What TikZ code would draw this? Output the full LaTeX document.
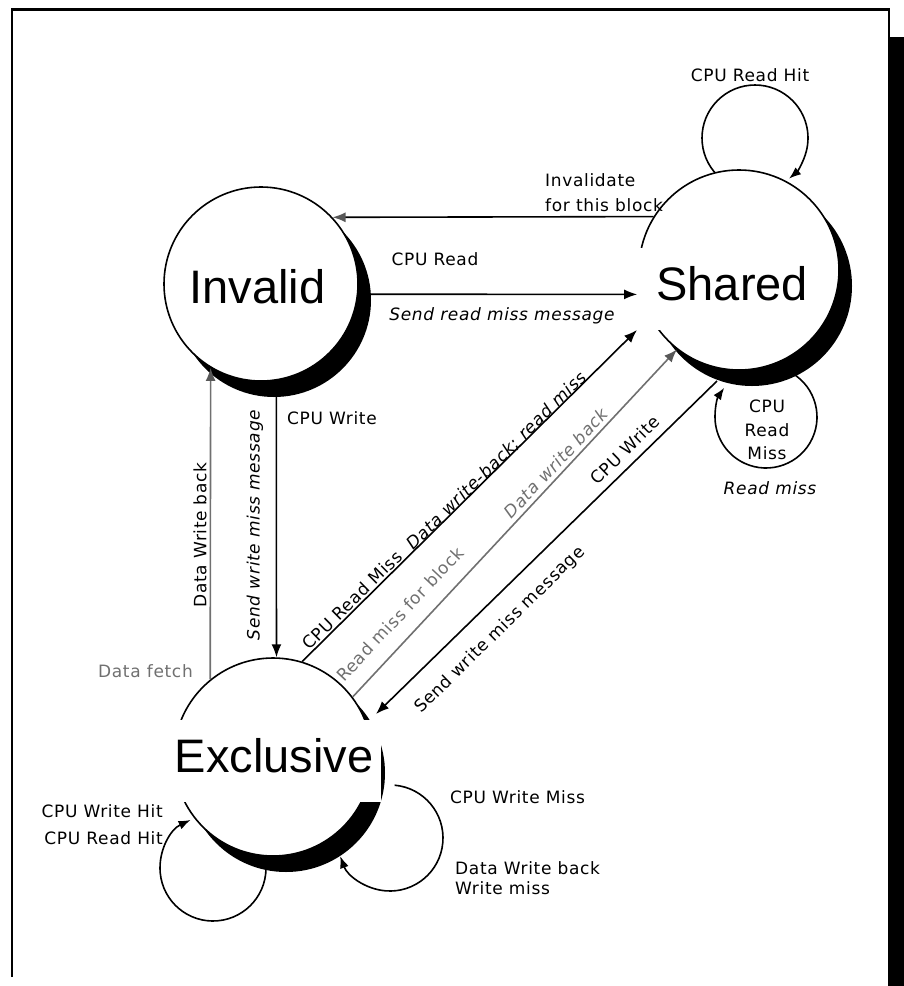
\documentclass[tikz,border=0pt]{standalone}
\usepackage{fontspec}
\setmainfont{Liberation Sans}
\newfontfamily\labelfont[LetterSpace=4,ItalicFont={DejaVu Sans Oblique}]{DejaVu Sans}
\usetikzlibrary{arrows.meta,shadows}

\definecolor{linegray}{RGB}{112,112,112}
\definecolor{tipgray}{RGB}{88,88,88}

\begin{document}
\begin{tikzpicture}[x=1pt,y=-1pt,
  state/.style={circle, draw, fill=white, line width=1.6pt, inner sep=0pt,
    drop shadow={shadow xshift=13pt, shadow yshift=-16pt, fill=black, opacity=1}},
  statename/.style={font=\fontsize{47}{47}\selectfont, fill=white, anchor=base,
    inner ysep=18pt, text height=34pt, text depth=12pt},
  lbl/.style={font=\labelfont\fontsize{17}{#1}\selectfont, inner sep=1pt},
  lbl/.default=25,
  act/.style={font=\labelfont\itshape\fontsize{17}{#1}\selectfont, inner sep=1pt},
  act/.default=25,
  conn/.style={line width=1.6pt, -{Latex[length=13pt,width=10pt]}},
  grayconn/.style={conn, draw=linegray, -{Latex[length=13pt,width=10pt,color=tipgray]}},
  loopconn/.style={line width=1.6pt, -{Latex[length=12pt,width=9pt]}}
]
\useasboundingbox (0,0) rectangle (904,986);

% frame with its heavy right edge
\draw[line width=2.6pt] (12,977) -- (12,9.5) -- (889,9.5) -- (889,38);
\fill (888,37) rectangle (904,986);

% self loops (drawn first so that their tails disappear under the circles)
\draw[loopconn] (739,270) ++(16,-132) ++(-225:53) arc[start angle=-225, end angle=50, radius=53];
\draw[loopconn] (739,270) ++(27,147) ++(-65:51) arc[start angle=-65, end angle=215, radius=51];
\draw[loopconn] (273,757) ++(-60,111) ++(-5:53) arc[start angle=-5, end angle=245, radius=53];
\draw[loopconn] (273,757) ++(117,81) ++(-85:53) arc[start angle=-85, end angle=160, radius=53];

% the three states
\node[state, minimum size=194pt] (inv) at (261,284) {};
\node[state, minimum size=200pt] (sha) at (739,270) {};
\node[state, minimum size=198pt] (exc) at (273,757) {};

\node[statename, inner xsep=8pt]  (invname) at (257.5,303) {Invalid};
\node[statename, inner xsep=6pt, text width=164pt, align=right] (shaname) at (726,300) {Shared};
\node[statename, inner xsep=8pt]  (excname) at (274,772) {Exclusive};

% free ends of the diagonal transitions
\coordinate (rmtip) at (637,330);
\coordinate (wmfrom) at (717,381);
\coordinate (wmtip) at (376,714);

% transitions
\draw[line width=1.6pt, {Latex[length=13pt,width=10pt,color=tipgray]}-] (inv.43.7) -- (sha.148);
\draw[conn, shorten >=4pt] (inv.-6) -- (sha.194);
\draw[conn] (inv.279.5) -- (exc.88);
\draw[grayconn] (exc.129) -- (inv.239);
\draw[conn] (exc.73) -- (rmtip);
\draw[grayconn] (exc.37) -- (sha.232);
\draw[conn] (wmfrom) -- (wmtip);

% transition labels
\node[lbl, align=left, anchor=west] (invlbl) at (544,192.5) {Invalidate\\for this block};
\node[lbl] (crlbl) at (435,259) {CPU Read};
\node[act] (srmlbl) at (502,316) {Send read miss message};
\node[lbl, anchor=west] (cwlbl) at (286,418) {CPU Write};
\node[act, rotate=90] (swmlbl) at (255,525) {Send write miss message};
\node[lbl, rotate=90] (dwblbl) at (200,535) {Data Write back};
\node[lbl, text=linegray, anchor=east] (dflbl) at (194,671) {Data fetch};
\node[lbl, rotate=44.7] (crmlbl) at (352,600) {CPU Read Miss};
\node[act, rotate=44.7] (dwrlbl) at (497,461) {Data write-back; read miss};
\node[lbl, rotate=46.8, text=linegray] (rmblbl) at (400,614) {Read miss for block};
\node[act, rotate=46.8, text=linegray] (dwglbl) at (556,463) {Data write back};
\node[lbl, rotate=44.4] (cw2lbl) at (625,450) {CPU Write};
\node[lbl, rotate=44.4] (swm2lbl) at (500,630) {Send write miss message};

% loop labels
\node[lbl] (crhlbl) at (750,75) {CPU Read Hit};
\node[lbl=23.5, align=center] (crmisslbl) at (767,430) {CPU\\Read\\Miss};
\node[act] (rdmlbl) at (770,488) {Read miss};
\node[lbl=27, align=right, anchor=east] (hitlbl) at (164,825) {CPU Write Hit\\CPU Read Hit};
\node[lbl, anchor=west] (cwmlbl) at (449,797) {CPU Write Miss};
\node[lbl=20, align=left, anchor=west] (wblbl) at (454,878) {Data Write back\\Write miss};
\end{tikzpicture}
\end{document}
